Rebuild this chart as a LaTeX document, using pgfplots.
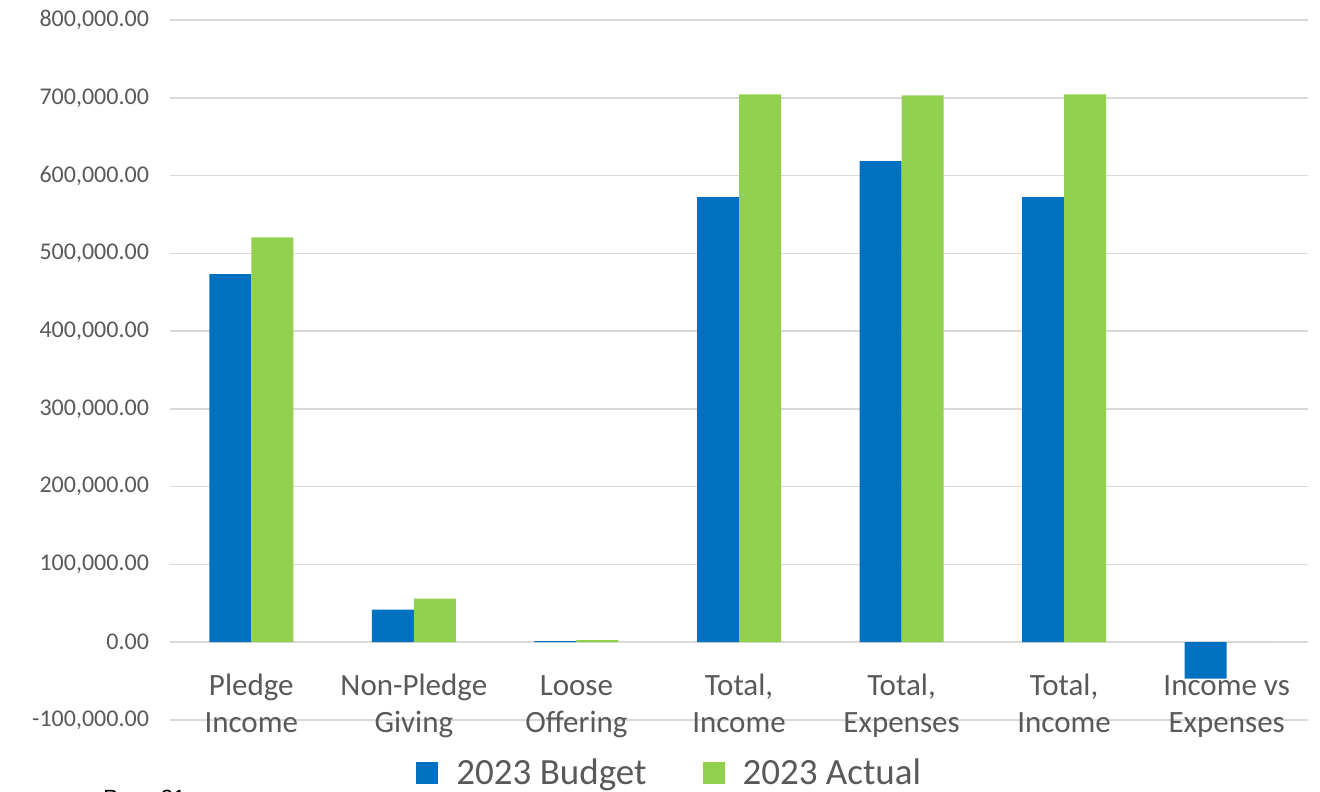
\documentclass[border=0pt]{standalone}
\usepackage{pgfplots}
\pgfplotsset{compat=1.18}
\usepackage{fontspec}
\setmainfont{Carlito}
\newfontfamily\pagefont{Liberation Sans}
\definecolor{budget}{HTML}{0070C0}
\definecolor{actual}{HTML}{92D050}
\definecolor{gridgray}{HTML}{D9D9D9}
\definecolor{labelgray}{HTML}{595959}

\begin{document}
\begin{tikzpicture}
  \begin{axis}[
    at={(0,0)}, anchor=south west,
    scale only axis,
    width=569pt, height=350pt,
    ybar=0pt,
    bar width=21pt,
    xmin=-0.5, xmax=6.5,
    ymin=-100000, ymax=800000,
    ytick={-100000,0,100000,200000,300000,400000,500000,600000,700000,800000},
    xtick={0,1,2,3,4,5,6},
    xticklabels={{\strut Pledge\\Income},{\strut Non-Pledge\\Giving},{\strut Loose\\Offering},
                 {\strut Total,\\Income},{\strut Total,\\Expenses},{\strut Total,\\Income},
                 {\strut Income vs\\Expenses}},
    scaled y ticks=false,
    yticklabel style={
      /pgf/number format/fixed, /pgf/number format/fixed zerofill,
      /pgf/number format/precision=2, /pgf/number format/1000 sep={,},
      /pgf/number format/assume math mode=true,
      font=\fontsize{12}{14}\selectfont, text=labelgray, xshift=-7pt},
    xticklabel style={font=\fontsize{15.5}{18.5}\selectfont, text=labelgray,
                      align=center, anchor=north, yshift=28.5pt},
    axis line style={draw=none},
    major tick length=0pt,
    ymajorgrids,
    grid style={draw=gridgray, line width=0.75pt},
    legend columns=2,
    legend style={draw=none, fill=none, at={(0.44,-0.0757)}, anchor=center,
                  font=\fontsize{18.5}{20}\selectfont, text=labelgray,
                  /tikz/every odd column/.append style={column sep=7pt},
                  /tikz/every even column/.append style={column sep=26pt}},
    legend image code/.code={
      \fill[#1] (0pt,-5.5pt) rectangle (11pt,5.5pt);
    },
    clip=false,
  ]
    \addplot[fill=budget, draw=none] coordinates {
      (0,473300) (1,42000) (2,1300) (3,572300) (4,618600) (5,572300) (6,-46700)};
    \addplot[fill=actual, draw=none] coordinates {
      (0,520500) (1,56200) (2,2600) (3,704500) (4,703100) (5,704500) (6,0)};
    \legend{2023 Budget, 2023 Actual}
  \end{axis}
  \node[anchor=north west, inner sep=0pt, font=\pagefont\fontsize{11}{13}\selectfont]
    at (-33.5pt,-35pt) {Page 21};
  \pgfresetboundingbox
  \path[use as bounding box] (-85pt,360pt) rectangle (575pt,-35.5pt);
\end{tikzpicture}
\end{document}
